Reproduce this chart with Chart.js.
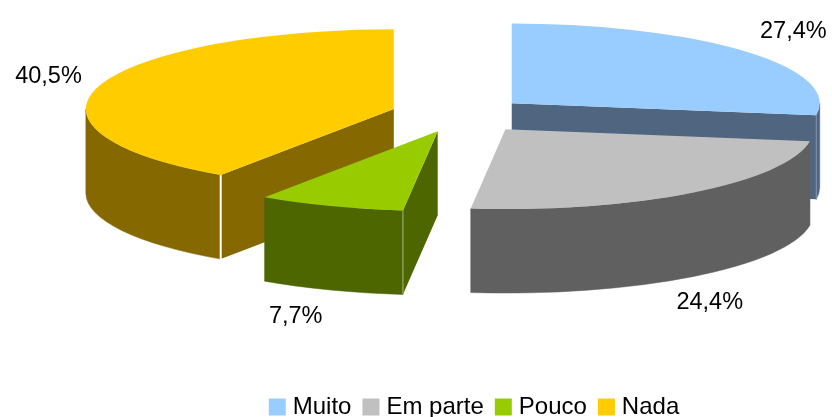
<!DOCTYPE html>
<html>
<head>
<meta charset="utf-8">
<script src="https://cdn.jsdelivr.net/npm/chart.js@4"></script>
<style>
  html, body { margin: 0; padding: 0; background: #fff; }
  #wrap { width: 832px; height: 417px; }
</style>
</head>
<body>
<div id="wrap"><canvas id="myChart"></canvas></div>
<script>
const categories = ['Muito', 'Em parte', 'Pouco', 'Nada'];
const values = [27.4, 24.4, 7.7, 40.5];
const topColors = ['#99CCFF', '#C0C0C0', '#99CC00', '#FFCC00'];
const sideColors = ['#4F6580', '#606060', '#4D6600', '#856800'];

// 3D look
const centerX = 461.7, centerY = 114.5;
const squash = 0.259;
const depth = 84;
const explode = [66, 72, 69, 71];
const labelNudge = [[48, -20], [17, 26], [-35, 26], [-51, -9]];
const edgeLines = [
  { side: 'end', color: '#7f95ad', width: 1 }, null,
  { side: 'start', color: '#a9b884', width: 1 },
  { side: 'start', color: '#ffffff', width: 2 }
];

const fakePie3d = {
  id: 'fakePie3d',
  beforeDatasetDraw(chart, args) {
    const ctx = chart.ctx;
    const arcs = args.meta.data;
    const pos = arcs.map((arc, i) => {
      const mid = (arc.startAngle + arc.endAngle) / 2;
      return {
        i, arc, mid,
        x: centerX + Math.cos(mid) * explode[i],
        y: centerY + Math.sin(mid) * explode[i] * squash
      };
    });
    // back slices first
    pos.slice().sort((a, b) => a.y - b.y).forEach(p => {
      const r = p.arc.outerRadius;
      const rimX = a => p.x + Math.cos(a) * r;
      const rimY = a => p.y + Math.sin(a) * r * squash;
      const start = p.arc.startAngle, end = p.arc.endAngle;
      ctx.fillStyle = sideColors[p.i];
      ctx.strokeStyle = sideColors[p.i];
      ctx.lineWidth = 0.5;
      // cut faces, only the ones turned to the viewer
      const cutFace = a => {
        ctx.beginPath();
        ctx.moveTo(p.x, p.y);
        ctx.lineTo(rimX(a), rimY(a));
        ctx.lineTo(rimX(a), rimY(a) + depth);
        ctx.lineTo(p.x, p.y + depth);
        ctx.closePath();
        ctx.fill();
      };
      if (Math.cos(start) < -1e-6) cutFace(start);
      if (Math.cos(end) > 1e-6) cutFace(end);
      // rim wall, only the front half of the ellipse shows
      const lo = Math.max(start, 0);
      const hi = Math.min(end, Math.PI);
      if (hi > lo) {
        ctx.beginPath();
        ctx.ellipse(p.x, p.y, r, r * squash, 0, lo, hi);
        ctx.ellipse(p.x, p.y + depth, r, r * squash, 0, hi, lo, true);
        ctx.closePath();
        ctx.fill();
        ctx.stroke();
      }
      const edge = edgeLines[p.i];
      if (edge) {
        const a = edge.side === 'start' ? start : end;
        ctx.beginPath();
        ctx.moveTo(rimX(a), rimY(a));
        ctx.lineTo(rimX(a), rimY(a) + depth);
        ctx.strokeStyle = edge.color;
        ctx.lineWidth = edge.width;
        ctx.stroke();
      }
      ctx.beginPath();
      ctx.ellipse(p.x, p.y, r, r * squash, 0, start, end);
      ctx.lineTo(p.x, p.y);
      ctx.closePath();
      ctx.fillStyle = topColors[p.i];
      ctx.fill();
    });
    // percent labels
    ctx.fillStyle = '#000';
    ctx.font = "23.5px 'Liberation Sans'";
    ctx.textAlign = 'center';
    ctx.textBaseline = 'middle';
    pos.forEach(p => {
      const r = p.arc.outerRadius;
      const front = Math.sin(p.mid) > 0 ? depth : 0;
      const text = values[p.i].toFixed(1).replace('.', ',') + '%';
      ctx.fillText(text,
        p.x + Math.cos(p.mid) * r + labelNudge[p.i][0],
        p.y + Math.sin(p.mid) * r * squash + front + labelNudge[p.i][1]);
    });
    return false;
  }
};

const ctx = document.getElementById('myChart').getContext('2d');
const myChart = new Chart(ctx, {
  type: 'pie',
  plugins: [fakePie3d],
  data: {
    labels: categories,
    datasets: [{
      data: values,
      backgroundColor: topColors,
      borderColor: topColors,
      borderWidth: 10 // makes the legend squares 17px, see boxWidth
    }]
  },
  options: {
    responsive: true,
    maintainAspectRatio: false,
    animation: false,
    radius: 308,
    layout: { padding: { left: 121, bottom: -12 } },
    plugins: {
      tooltip: { enabled: false },
      legend: {
        position: 'bottom',
        labels: {
          boxWidth: 7,
          boxHeight: 7,
          padding: 16,
          color: '#000',
          font: { family: "'Liberation Sans'", size: 24 }
        }
      }
    }
  }
});
</script>
</body>
</html>
